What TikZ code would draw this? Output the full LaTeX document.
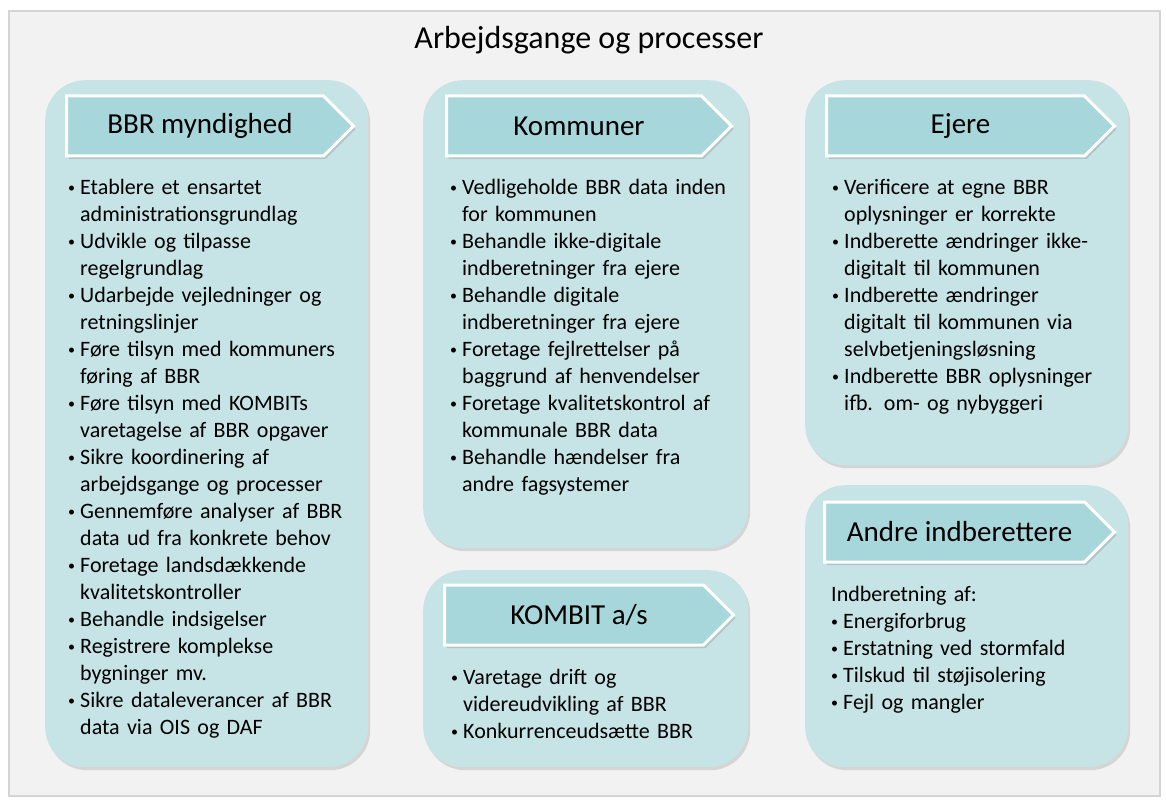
\documentclass[tikz,border=0pt]{standalone}
\usepackage{fontspec}
\setmainfont{Carlito}
\usetikzlibrary{shapes.symbols, shadows}
\definecolor{canvas}{HTML}{F2F2F2}
\definecolor{frameline}{HTML}{D4D4D4}
\definecolor{panelfill}{HTML}{C6E3E6}
\definecolor{headfill}{HTML}{A7D6DB}
\newcommand{\bitem}[1]{\par\noindent\hangindent=12pt\hangafter=1%
  \makebox[12pt][l]{\raisebox{1.5pt}{\fontsize{14}{14}\selectfont\textbullet}}#1\par}

\begin{document}
\begin{tikzpicture}[x=1pt, y=-1pt,
  panel/.style={rectangle, rounded corners=40pt, fill=panelfill, anchor=north west,
    drop shadow={shadow xshift=2pt, shadow yshift=-3pt, opacity=.25}},
  headbox/.style={signal, signal to=east, fill=headfill, draw=white, line width=3pt,
    minimum height=60pt, anchor=west, font=\fontsize{29}{32}\selectfont,
    execute at begin node=\hspace*{10pt},
    drop shadow={shadow xshift=2pt, shadow yshift=-3pt, opacity=.3}},
  listtext/.style={anchor=north west, inner sep=0pt, align=left, text width=305pt,
    font=\fontsize{22}{27}\selectfont}]
  \useasboundingbox (0,0) rectangle (1166,802);
  % Baggrund
  \fill[white] (0,0) rectangle (1166,802);
  \draw[frameline, line width=2pt, fill=canvas] (9,11) rectangle (1160,796);
  \node[font=\fontsize{32}{36}\selectfont] (title) at (589,40) {Arbejdsgange og processer};
  % Paneler
  \node[panel, minimum width=323pt, minimum height=687pt] (bbr) at (45,80) {};
  \node[panel, minimum width=325pt, minimum height=468pt] (kom) at (423,80) {};
  \node[panel, minimum width=325pt, minimum height=197pt] (kombit) at (423,570) {};
  \node[panel, minimum width=323pt, minimum height=385pt] (ejere) at (805,80) {};
  \node[panel, minimum width=323pt, minimum height=282pt] (andre) at (805,485) {};
  % Overskrifter
  \node[headbox, minimum width=287pt] (bbrhead) at (65,126) {BBR myndighed};
  \node[headbox, minimum width=285pt] (komhead) at (445,126) {Kommuner};
  \node[headbox, minimum width=289pt] (kombithead) at (443,615) {KOMBIT a/s};
  \node[headbox, minimum width=288pt] (ejerehead) at (825,126) {Ejere};
  \node[headbox, minimum width=290pt] (andrehead) at (823,532) {Andre indberettere};
  % Opgaver
  \node[listtext] (bbrlist) at (68,167) {%
    \bitem{Etablere et ensartet\newline administrationsgrundlag}
    \bitem{Udvikle og tilpasse\newline regelgrundlag}
    \bitem{Udarbejde vejledninger og\newline retningslinjer}
    \bitem{Føre tilsyn med kommuners\newline føring af BBR}
    \bitem{Føre tilsyn med KOMBITs\newline varetagelse af BBR opgaver}
    \bitem{Sikre koordinering af\newline arbejdsgange og processer}
    \bitem{Gennemføre analyser af BBR\newline data ud fra konkrete behov}
    \bitem{Foretage landsdækkende\newline kvalitetskontroller}
    \bitem{Behandle indsigelser}
    \bitem{Registrere komplekse\newline bygninger mv.}
    \bitem{Sikre dataleverancer af BBR\newline data via OIS og DAF}};
  \node[listtext] (komlist) at (450,167) {%
    \bitem{Vedligeholde BBR data inden\newline for kommunen}
    \bitem{Behandle ikke-digitale\newline indberetninger fra ejere}
    \bitem{Behandle digitale\newline indberetninger fra ejere}
    \bitem{Foretage fejlrettelser på\newline baggrund af henvendelser}
    \bitem{Foretage kvalitetskontrol af\newline kommunale BBR data}
    \bitem{Behandle hændelser fra\newline andre fagsystemer}};
  \node[listtext] (ejerelist) at (832,167) {%
    \bitem{Verificere at egne BBR\newline oplysninger er korrekte}
    \bitem{Indberette ændringer ikke-\newline digitalt til kommunen}
    \bitem{Indberette ændringer\newline digitalt til kommunen via\newline selvbetjeningsløsning}
    \bitem{Indberette BBR oplysninger\newline ifb. om- og nybyggeri}};
  \node[listtext] (kombitlist) at (451,657) {%
    \bitem{Varetage drift og\newline videreudvikling af BBR}
    \bitem{Konkurrenceudsætte BBR}};
  \node[listtext] (andrelist) at (831,586) {%
    \noindent Indberetning af:
    \bitem{Energiforbrug}
    \bitem{Erstatning ved stormfald}
    \bitem{Tilskud til støjisolering}
    \bitem{Fejl og mangler}};
\end{tikzpicture}
\end{document}
